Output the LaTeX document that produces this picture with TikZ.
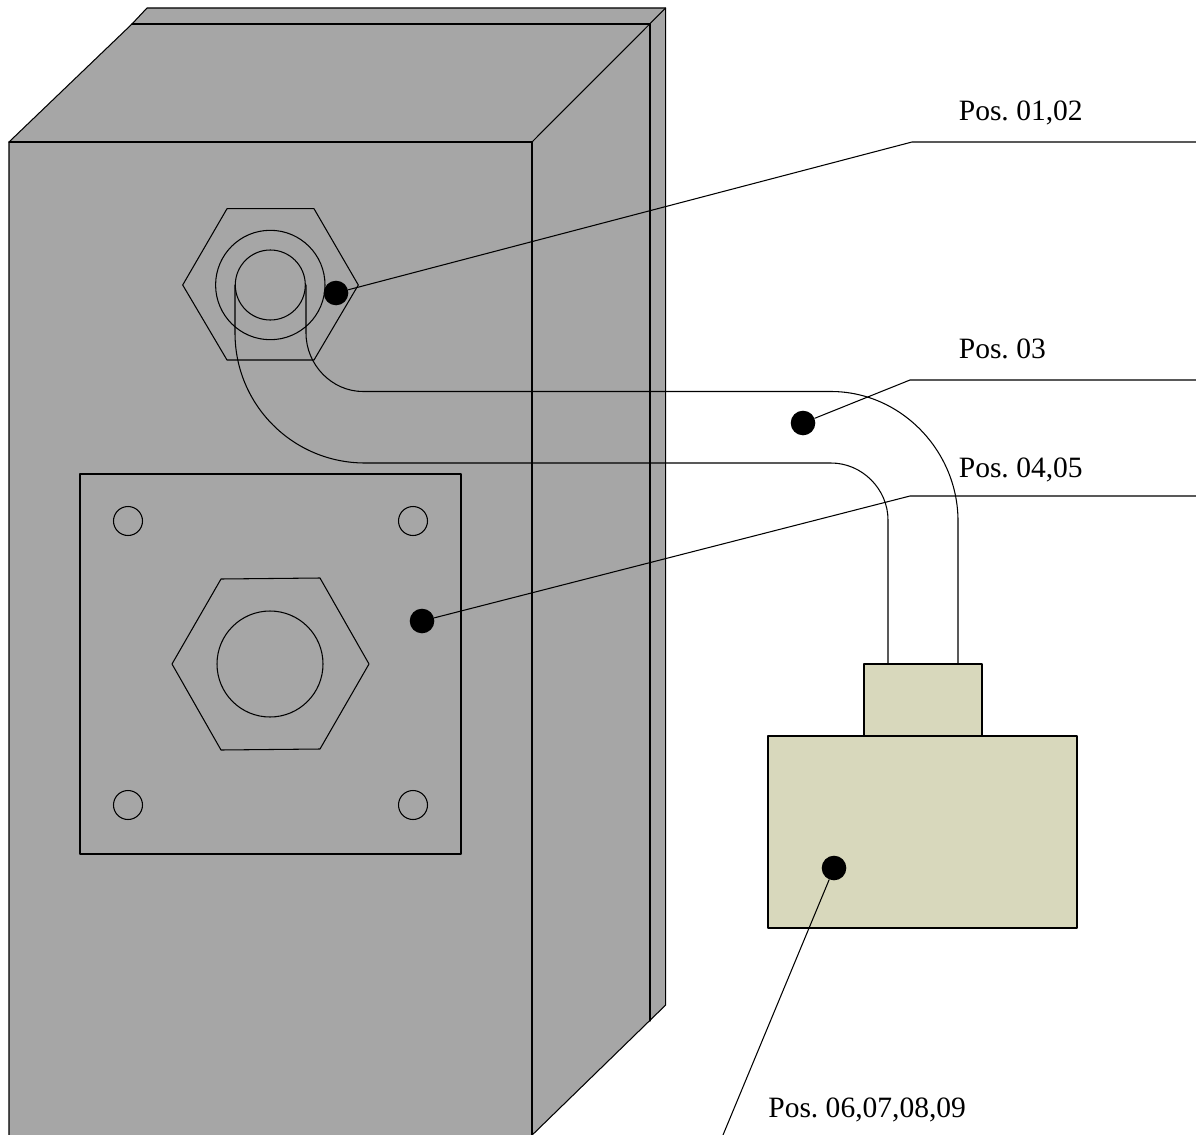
\documentclass[tikz,border=0pt]{standalone}
\usepackage{fontspec}
\setmainfont{Liberation Serif}
\frenchspacing
\begin{document}
\begin{tikzpicture}
	[x=0.02cm,y=-0.02cm,line cap=round,line join=round,line width=.6pt,
	%Styles
	box face/.style={fill=boxgray,draw=black},
	terminal face/.style={fill=terminalbeige,draw=black},
	dot/.style={circle,inner sep=0pt,minimum size=24.6*0.02cm,fill=black},
	pos text/.style={anchor=base west,inner sep=0pt,font=\fontsize{16.8}{20}\selectfont}
	]
	
	%Colors
	\colorlet{boxgray}{black!35}
	\definecolor{terminalbeige}{HTML}{D8D8BC}
	\useasboundingbox (0,0) rectangle (1196,1135);
	\clip (0,0) rectangle (1196,1135);
	
	%The housing
	\draw[box face] (9,142) -- (132,24) -- (147,8) -- (665.7,8) -- (665.7,1005) -- (526,1141) -- (9,1141) -- cycle;
	\draw (132,24) -- (650,24) -- (650,1021);
	\draw (9,142) -- (532,142) -- (532,1141);
	\draw (532,142) -- (665.7,8);
	
	%Upper gland
	\draw (182.7,285) -- (227,208.7) -- (314,208.7) -- (358.3,285) -- (314,360) -- (227,360) -- cycle;
	\draw (270.3,285) circle (54.7);
	\draw (270.3,285) circle (35);
	
	%Plate with lower gland
	\draw (80,474) rectangle (461,854);
	\foreach \i in {128,413}
	{
		\draw (\i,521) circle (14.5);
		\draw (\i,805) circle (14.5);
	}
	\draw (172,664) -- (221,579) -- (320,578) -- (369,664) -- (320,749) -- (221,750) -- cycle;
	\draw (270,664) circle (53);
	
	%The cable
	\draw (235,285) -- (235,333) .. controls (235,405) and (293,463) .. (365,463) -- (831,463)
		.. controls (862,463) and (888,489) .. (888,520) -- (888,664);
	\draw (306,285) -- (306,333) .. controls (306,365) and (332,391.5) .. (363,391.5) -- (831,391.5)
		.. controls (901,391.5) and (958,451) .. (958,521) -- (958,664);
	
	%The terminal box
	\draw[terminal face] (864,664) rectangle (982,736);
	\draw[terminal face] (768,736) rectangle (1077,928);
	
	%Markers
	\node[dot] (dot12) at (336,293) {};
	\node[dot] (dot3) at (803,423) {};
	\node[dot] (dot45) at (422,621) {};
	\node[dot] (dot69) at (834,868) {};
	
	\coordinate (knee12) at (912,142);
	\coordinate (end12) at (1196,142);
	\coordinate (knee3) at (910,380);
	\coordinate (end3) at (1196,380);
	\coordinate (knee45) at (910,496);
	\coordinate (end45) at (1196,496);
	\coordinate (end69) at (720.5,1141);
	
	\draw (dot12) -- (knee12) -- (end12);
	\draw (dot3) -- (knee3) -- (end3);
	\draw (dot45) -- (knee45) -- (end45);
	\draw (dot69) -- (end69);
	
	\node[pos text] (pos12) at (958.3,121) {Pos. 01,02};
	\node[pos text] (pos3) at (958.3,358) {Pos. 03};
	\node[pos text] (pos45) at (958.3,477) {Pos. 04,05};
	\node[pos text] (pos69) at (767.8,1117.5) {Pos. 06,07,08,09};
\end{tikzpicture}
\end{document}
